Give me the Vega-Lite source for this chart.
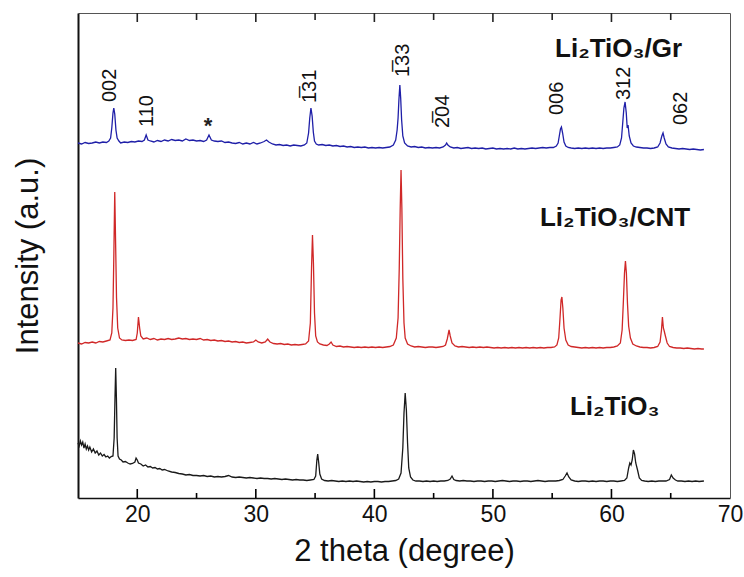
{
"$schema": "https://vega.github.io/schema/vega-lite/v6.json",
"autosize": "none",
"width": 652,
"height": 485,
"padding": {"left": 78, "top": 13, "right": 14, "bottom": 79},
"background": "white",
"view": {"stroke": null},
"config": {"font": "Liberation Sans"},
"datasets": {
"maj": [{"x":20},{"x":30},{"x":40},{"x":50},{"x":60}],
"min": [{"x":25},{"x":35},{"x":45},{"x":55},{"x":65}],
"tr": [
{"s":"Gr","x":15.0,"v":355},{"s":"Gr","x":15.3,"v":354},{"s":"Gr","x":15.6,"v":355.5},{"s":"Gr","x":15.9,"v":354.5},{"s":"Gr","x":16.2,"v":355},{"s":"Gr","x":16.5,"v":356},{"s":"Gr","x":16.8,"v":355},{"s":"Gr","x":17.1,"v":356},{"s":"Gr","x":17.4,"v":355.5},{"s":"Gr","x":17.6,"v":357},{"s":"Gr","x":17.75,"v":360},{"s":"Gr","x":17.85,"v":370},{"s":"Gr","x":17.95,"v":385},{"s":"Gr","x":18.02,"v":390},{"s":"Gr","x":18.1,"v":384},{"s":"Gr","x":18.2,"v":368},{"s":"Gr","x":18.3,"v":360},{"s":"Gr","x":18.45,"v":357},{"s":"Gr","x":18.6,"v":355},{"s":"Gr","x":18.9,"v":356},{"s":"Gr","x":19.2,"v":355.5},{"s":"Gr","x":19.5,"v":356.5},{"s":"Gr","x":19.8,"v":356},{"s":"Gr","x":20.1,"v":357},{"s":"Gr","x":20.4,"v":356.5},{"s":"Gr","x":20.6,"v":358},{"s":"Gr","x":20.75,"v":363},{"s":"Gr","x":20.9,"v":358},{"s":"Gr","x":21.1,"v":357},{"s":"Gr","x":21.4,"v":356},{"s":"Gr","x":21.7,"v":357.5},{"s":"Gr","x":22.0,"v":356.5},{"s":"Gr","x":22.3,"v":358},{"s":"Gr","x":22.6,"v":357},{"s":"Gr","x":22.9,"v":358.5},{"s":"Gr","x":23.2,"v":357.5},{"s":"Gr","x":23.5,"v":358},{"s":"Gr","x":23.8,"v":357},{"s":"Gr","x":24.1,"v":359},{"s":"Gr","x":24.4,"v":357.5},{"s":"Gr","x":24.7,"v":358},{"s":"Gr","x":25.0,"v":357},{"s":"Gr","x":25.3,"v":357.5},{"s":"Gr","x":25.6,"v":356.5},{"s":"Gr","x":25.85,"v":358},{"s":"Gr","x":26.05,"v":363},{"s":"Gr","x":26.25,"v":358},{"s":"Gr","x":26.5,"v":357},{"s":"Gr","x":26.8,"v":356.5},{"s":"Gr","x":27.1,"v":357},{"s":"Gr","x":27.4,"v":355.5},{"s":"Gr","x":27.7,"v":356},{"s":"Gr","x":28.0,"v":355},{"s":"Gr","x":28.3,"v":354.5},{"s":"Gr","x":28.6,"v":355.5},{"s":"Gr","x":28.9,"v":354},{"s":"Gr","x":29.2,"v":355},{"s":"Gr","x":29.5,"v":354},{"s":"Gr","x":29.8,"v":355.5},{"s":"Gr","x":30.1,"v":354},{"s":"Gr","x":30.4,"v":355},{"s":"Gr","x":30.7,"v":356.5},{"s":"Gr","x":30.9,"v":358},{"s":"Gr","x":31.1,"v":356},{"s":"Gr","x":31.4,"v":354},{"s":"Gr","x":31.7,"v":353},{"s":"Gr","x":32.0,"v":353.5},{"s":"Gr","x":32.3,"v":352.5},{"s":"Gr","x":32.6,"v":353},{"s":"Gr","x":32.9,"v":352},{"s":"Gr","x":33.2,"v":353},{"s":"Gr","x":33.5,"v":352.5},{"s":"Gr","x":33.8,"v":352},{"s":"Gr","x":34.1,"v":353},{"s":"Gr","x":34.3,"v":355},{"s":"Gr","x":34.45,"v":365},{"s":"Gr","x":34.55,"v":380},{"s":"Gr","x":34.65,"v":390},{"s":"Gr","x":34.75,"v":382},{"s":"Gr","x":34.85,"v":366},{"s":"Gr","x":34.95,"v":357},{"s":"Gr","x":35.1,"v":354},{"s":"Gr","x":35.3,"v":353},{"s":"Gr","x":35.6,"v":353.5},{"s":"Gr","x":35.9,"v":352.5},{"s":"Gr","x":36.2,"v":353},{"s":"Gr","x":36.5,"v":352},{"s":"Gr","x":36.8,"v":352.5},{"s":"Gr","x":37.1,"v":351.5},{"s":"Gr","x":37.4,"v":352},{"s":"Gr","x":37.7,"v":351},{"s":"Gr","x":38.0,"v":351.5},{"s":"Gr","x":38.3,"v":350.5},{"s":"Gr","x":38.6,"v":351},{"s":"Gr","x":38.9,"v":350.5},{"s":"Gr","x":39.2,"v":351},{"s":"Gr","x":39.5,"v":350},{"s":"Gr","x":39.8,"v":350.5},{"s":"Gr","x":40.1,"v":350},{"s":"Gr","x":40.4,"v":350.5},{"s":"Gr","x":40.7,"v":350},{"s":"Gr","x":41.0,"v":350.5},{"s":"Gr","x":41.3,"v":351},{"s":"Gr","x":41.6,"v":353},{"s":"Gr","x":41.8,"v":358},{"s":"Gr","x":41.92,"v":368},{"s":"Gr","x":42.0,"v":380},{"s":"Gr","x":42.07,"v":398},{"s":"Gr","x":42.15,"v":413},{"s":"Gr","x":42.22,"v":400},{"s":"Gr","x":42.3,"v":378},{"s":"Gr","x":42.4,"v":362},{"s":"Gr","x":42.55,"v":355},{"s":"Gr","x":42.8,"v":352},{"s":"Gr","x":43.1,"v":351},{"s":"Gr","x":43.4,"v":351.5},{"s":"Gr","x":43.7,"v":350.5},{"s":"Gr","x":44.0,"v":351},{"s":"Gr","x":44.3,"v":350},{"s":"Gr","x":44.6,"v":350.5},{"s":"Gr","x":44.9,"v":350},{"s":"Gr","x":45.2,"v":350.5},{"s":"Gr","x":45.5,"v":350},{"s":"Gr","x":45.8,"v":351},{"s":"Gr","x":46.0,"v":353},{"s":"Gr","x":46.1,"v":355},{"s":"Gr","x":46.2,"v":353},{"s":"Gr","x":46.4,"v":351},{"s":"Gr","x":46.7,"v":350},{"s":"Gr","x":47.0,"v":350.5},{"s":"Gr","x":47.3,"v":349.5},{"s":"Gr","x":47.6,"v":350},{"s":"Gr","x":47.9,"v":350.5},{"s":"Gr","x":48.2,"v":349.5},{"s":"Gr","x":48.5,"v":350},{"s":"Gr","x":48.8,"v":349.5},{"s":"Gr","x":49.1,"v":350},{"s":"Gr","x":49.4,"v":349},{"s":"Gr","x":49.7,"v":349.5},{"s":"Gr","x":50.0,"v":350},{"s":"Gr","x":50.3,"v":349},{"s":"Gr","x":50.6,"v":349.5},{"s":"Gr","x":50.9,"v":349},{"s":"Gr","x":51.2,"v":349.5},{"s":"Gr","x":51.5,"v":349},{"s":"Gr","x":51.8,"v":350},{"s":"Gr","x":52.1,"v":349},{"s":"Gr","x":52.4,"v":349.5},{"s":"Gr","x":52.7,"v":349},{"s":"Gr","x":53.0,"v":349.5},{"s":"Gr","x":53.3,"v":350},{"s":"Gr","x":53.6,"v":349.5},{"s":"Gr","x":53.9,"v":350},{"s":"Gr","x":54.2,"v":350.5},{"s":"Gr","x":54.5,"v":350},{"s":"Gr","x":54.8,"v":350.5},{"s":"Gr","x":55.1,"v":350.5},{"s":"Gr","x":55.35,"v":352},{"s":"Gr","x":55.5,"v":355},{"s":"Gr","x":55.6,"v":362},{"s":"Gr","x":55.7,"v":369},{"s":"Gr","x":55.78,"v":371},{"s":"Gr","x":55.88,"v":365},{"s":"Gr","x":56.0,"v":356},{"s":"Gr","x":56.15,"v":352},{"s":"Gr","x":56.35,"v":350.5},{"s":"Gr","x":56.6,"v":350},{"s":"Gr","x":56.9,"v":349.5},{"s":"Gr","x":57.2,"v":350},{"s":"Gr","x":57.5,"v":349.5},{"s":"Gr","x":57.8,"v":350},{"s":"Gr","x":58.1,"v":349.5},{"s":"Gr","x":58.4,"v":350},{"s":"Gr","x":58.7,"v":349.5},{"s":"Gr","x":59.0,"v":350},{"s":"Gr","x":59.3,"v":349.5},{"s":"Gr","x":59.6,"v":350},{"s":"Gr","x":59.9,"v":350},{"s":"Gr","x":60.2,"v":350.5},{"s":"Gr","x":60.5,"v":351},{"s":"Gr","x":60.7,"v":353},{"s":"Gr","x":60.85,"v":360},{"s":"Gr","x":60.95,"v":375},{"s":"Gr","x":61.05,"v":390},{"s":"Gr","x":61.15,"v":396},{"s":"Gr","x":61.25,"v":385},{"s":"Gr","x":61.33,"v":370},{"s":"Gr","x":61.4,"v":373},{"s":"Gr","x":61.5,"v":362},{"s":"Gr","x":61.65,"v":355},{"s":"Gr","x":61.85,"v":352},{"s":"Gr","x":62.1,"v":351},{"s":"Gr","x":62.4,"v":350.5},{"s":"Gr","x":62.7,"v":350},{"s":"Gr","x":63.0,"v":350},{"s":"Gr","x":63.3,"v":349.5},{"s":"Gr","x":63.6,"v":350},{"s":"Gr","x":63.9,"v":351},{"s":"Gr","x":64.1,"v":355},{"s":"Gr","x":64.25,"v":362},{"s":"Gr","x":64.35,"v":365},{"s":"Gr","x":64.45,"v":360},{"s":"Gr","x":64.6,"v":354},{"s":"Gr","x":64.8,"v":351},{"s":"Gr","x":65.1,"v":350},{"s":"Gr","x":65.4,"v":349.5},{"s":"Gr","x":65.7,"v":349},{"s":"Gr","x":66.0,"v":349.5},{"s":"Gr","x":66.3,"v":349},{"s":"Gr","x":66.6,"v":348.5},{"s":"Gr","x":66.9,"v":349},{"s":"Gr","x":67.2,"v":348.5},{"s":"Gr","x":67.5,"v":348},{"s":"Gr","x":67.8,"v":348.5},
{"s":"CNT","x":15.0,"v":155},{"s":"CNT","x":15.3,"v":154},{"s":"CNT","x":15.6,"v":155.5},{"s":"CNT","x":15.9,"v":155},{"s":"CNT","x":16.2,"v":156},{"s":"CNT","x":16.5,"v":155},{"s":"CNT","x":16.8,"v":156.5},{"s":"CNT","x":17.1,"v":156},{"s":"CNT","x":17.4,"v":157},{"s":"CNT","x":17.7,"v":158},{"s":"CNT","x":17.85,"v":165},{"s":"CNT","x":17.95,"v":190},{"s":"CNT","x":18.02,"v":240},{"s":"CNT","x":18.1,"v":306},{"s":"CNT","x":18.18,"v":250},{"s":"CNT","x":18.25,"v":200},{"s":"CNT","x":18.35,"v":170},{"s":"CNT","x":18.5,"v":160},{"s":"CNT","x":18.7,"v":158},{"s":"CNT","x":19.0,"v":157.5},{"s":"CNT","x":19.3,"v":158},{"s":"CNT","x":19.6,"v":157.5},{"s":"CNT","x":19.9,"v":158.5},{"s":"CNT","x":20.0,"v":165},{"s":"CNT","x":20.1,"v":181},{"s":"CNT","x":20.2,"v":170},{"s":"CNT","x":20.3,"v":162},{"s":"CNT","x":20.5,"v":159},{"s":"CNT","x":20.8,"v":160},{"s":"CNT","x":21.1,"v":158.5},{"s":"CNT","x":21.4,"v":159.5},{"s":"CNT","x":21.7,"v":158},{"s":"CNT","x":22.0,"v":159},{"s":"CNT","x":22.3,"v":158.5},{"s":"CNT","x":22.6,"v":159.5},{"s":"CNT","x":22.9,"v":158.5},{"s":"CNT","x":23.2,"v":159},{"s":"CNT","x":23.5,"v":160},{"s":"CNT","x":23.8,"v":159},{"s":"CNT","x":24.1,"v":159.5},{"s":"CNT","x":24.4,"v":158.5},{"s":"CNT","x":24.7,"v":159},{"s":"CNT","x":25.0,"v":158.5},{"s":"CNT","x":25.3,"v":159.5},{"s":"CNT","x":25.6,"v":158},{"s":"CNT","x":25.9,"v":158.5},{"s":"CNT","x":26.2,"v":157.5},{"s":"CNT","x":26.5,"v":158},{"s":"CNT","x":26.8,"v":157},{"s":"CNT","x":27.1,"v":157.5},{"s":"CNT","x":27.4,"v":156.5},{"s":"CNT","x":27.7,"v":157},{"s":"CNT","x":28.0,"v":156},{"s":"CNT","x":28.3,"v":156.5},{"s":"CNT","x":28.6,"v":155.5},{"s":"CNT","x":28.9,"v":156},{"s":"CNT","x":29.2,"v":155},{"s":"CNT","x":29.5,"v":155.5},{"s":"CNT","x":29.8,"v":156},{"s":"CNT","x":30.0,"v":158},{"s":"CNT","x":30.2,"v":156},{"s":"CNT","x":30.5,"v":155},{"s":"CNT","x":30.8,"v":156},{"s":"CNT","x":31.0,"v":159},{"s":"CNT","x":31.2,"v":156},{"s":"CNT","x":31.5,"v":154.5},{"s":"CNT","x":31.8,"v":154},{"s":"CNT","x":32.1,"v":154.5},{"s":"CNT","x":32.4,"v":153.5},{"s":"CNT","x":32.7,"v":154},{"s":"CNT","x":33.0,"v":153},{"s":"CNT","x":33.3,"v":153.5},{"s":"CNT","x":33.6,"v":153},{"s":"CNT","x":33.9,"v":153.5},{"s":"CNT","x":34.2,"v":154},{"s":"CNT","x":34.45,"v":157},{"s":"CNT","x":34.6,"v":175},{"s":"CNT","x":34.7,"v":230},{"s":"CNT","x":34.78,"v":263},{"s":"CNT","x":34.86,"v":235},{"s":"CNT","x":34.95,"v":185},{"s":"CNT","x":35.05,"v":162},{"s":"CNT","x":35.2,"v":156},{"s":"CNT","x":35.4,"v":154},{"s":"CNT","x":35.7,"v":153},{"s":"CNT","x":36.0,"v":152.5},{"s":"CNT","x":36.2,"v":154},{"s":"CNT","x":36.35,"v":156},{"s":"CNT","x":36.5,"v":153},{"s":"CNT","x":36.8,"v":151.5},{"s":"CNT","x":37.1,"v":152},{"s":"CNT","x":37.4,"v":151},{"s":"CNT","x":37.7,"v":151.5},{"s":"CNT","x":38.0,"v":151},{"s":"CNT","x":38.3,"v":150.5},{"s":"CNT","x":38.6,"v":151},{"s":"CNT","x":38.9,"v":150.5},{"s":"CNT","x":39.2,"v":151},{"s":"CNT","x":39.5,"v":150.5},{"s":"CNT","x":39.8,"v":151},{"s":"CNT","x":40.1,"v":150.5},{"s":"CNT","x":40.4,"v":151},{"s":"CNT","x":40.7,"v":150.5},{"s":"CNT","x":41.0,"v":151},{"s":"CNT","x":41.3,"v":151.5},{"s":"CNT","x":41.6,"v":153},{"s":"CNT","x":41.85,"v":160},{"s":"CNT","x":42.0,"v":180},{"s":"CNT","x":42.1,"v":230},{"s":"CNT","x":42.18,"v":290},{"s":"CNT","x":42.25,"v":328},{"s":"CNT","x":42.32,"v":290},{"s":"CNT","x":42.4,"v":220},{"s":"CNT","x":42.5,"v":175},{"s":"CNT","x":42.6,"v":160},{"s":"CNT","x":42.8,"v":154},{"s":"CNT","x":43.1,"v":152},{"s":"CNT","x":43.4,"v":151},{"s":"CNT","x":43.7,"v":151.5},{"s":"CNT","x":44.0,"v":151},{"s":"CNT","x":44.3,"v":150.5},{"s":"CNT","x":44.6,"v":151},{"s":"CNT","x":44.9,"v":151},{"s":"CNT","x":45.2,"v":150.5},{"s":"CNT","x":45.5,"v":151},{"s":"CNT","x":45.8,"v":151.5},{"s":"CNT","x":46.0,"v":153},{"s":"CNT","x":46.15,"v":159},{"s":"CNT","x":46.3,"v":168},{"s":"CNT","x":46.4,"v":162},{"s":"CNT","x":46.55,"v":155},{"s":"CNT","x":46.8,"v":152},{"s":"CNT","x":47.1,"v":151},{"s":"CNT","x":47.4,"v":151.5},{"s":"CNT","x":47.7,"v":151},{"s":"CNT","x":48.0,"v":150.5},{"s":"CNT","x":48.3,"v":151},{"s":"CNT","x":48.6,"v":150.5},{"s":"CNT","x":48.9,"v":151},{"s":"CNT","x":49.2,"v":150.5},{"s":"CNT","x":49.5,"v":151},{"s":"CNT","x":49.8,"v":150.5},{"s":"CNT","x":50.1,"v":150},{"s":"CNT","x":50.4,"v":150.5},{"s":"CNT","x":50.7,"v":150},{"s":"CNT","x":51.0,"v":150.5},{"s":"CNT","x":51.3,"v":150},{"s":"CNT","x":51.6,"v":150.5},{"s":"CNT","x":51.9,"v":150},{"s":"CNT","x":52.2,"v":150.5},{"s":"CNT","x":52.5,"v":150},{"s":"CNT","x":52.8,"v":150.5},{"s":"CNT","x":53.1,"v":150},{"s":"CNT","x":53.4,"v":150.5},{"s":"CNT","x":53.7,"v":150},{"s":"CNT","x":54.0,"v":150.5},{"s":"CNT","x":54.3,"v":150},{"s":"CNT","x":54.6,"v":150.5},{"s":"CNT","x":54.9,"v":150.5},{"s":"CNT","x":55.2,"v":151},{"s":"CNT","x":55.4,"v":153},{"s":"CNT","x":55.55,"v":160},{"s":"CNT","x":55.65,"v":178},{"s":"CNT","x":55.75,"v":198},{"s":"CNT","x":55.82,"v":201},{"s":"CNT","x":55.9,"v":190},{"s":"CNT","x":56.0,"v":170},{"s":"CNT","x":56.15,"v":158},{"s":"CNT","x":56.35,"v":153},{"s":"CNT","x":56.6,"v":151.5},{"s":"CNT","x":56.9,"v":151},{"s":"CNT","x":57.2,"v":150.5},{"s":"CNT","x":57.5,"v":150},{"s":"CNT","x":57.8,"v":150.5},{"s":"CNT","x":58.1,"v":150},{"s":"CNT","x":58.4,"v":150.5},{"s":"CNT","x":58.7,"v":150},{"s":"CNT","x":59.0,"v":150.5},{"s":"CNT","x":59.3,"v":150},{"s":"CNT","x":59.6,"v":150.5},{"s":"CNT","x":59.9,"v":150.5},{"s":"CNT","x":60.2,"v":151},{"s":"CNT","x":60.5,"v":152},{"s":"CNT","x":60.75,"v":155},{"s":"CNT","x":60.9,"v":168},{"s":"CNT","x":61.0,"v":195},{"s":"CNT","x":61.1,"v":225},{"s":"CNT","x":61.18,"v":237},{"s":"CNT","x":61.26,"v":225},{"s":"CNT","x":61.35,"v":195},{"s":"CNT","x":61.45,"v":172},{"s":"CNT","x":61.6,"v":160},{"s":"CNT","x":61.8,"v":154},{"s":"CNT","x":62.1,"v":152},{"s":"CNT","x":62.4,"v":151},{"s":"CNT","x":62.7,"v":150.5},{"s":"CNT","x":63.0,"v":150.5},{"s":"CNT","x":63.3,"v":150},{"s":"CNT","x":63.6,"v":150.5},{"s":"CNT","x":63.9,"v":151.5},{"s":"CNT","x":64.1,"v":156},{"s":"CNT","x":64.22,"v":168},{"s":"CNT","x":64.3,"v":181},{"s":"CNT","x":64.38,"v":170},{"s":"CNT","x":64.45,"v":167},{"s":"CNT","x":64.55,"v":162},{"s":"CNT","x":64.7,"v":155},{"s":"CNT","x":64.9,"v":151.5},{"s":"CNT","x":65.2,"v":150.5},{"s":"CNT","x":65.5,"v":150},{"s":"CNT","x":65.8,"v":150},{"s":"CNT","x":66.1,"v":149.5},{"s":"CNT","x":66.4,"v":150},{"s":"CNT","x":66.7,"v":149.5},{"s":"CNT","x":67.0,"v":149},{"s":"CNT","x":67.3,"v":149.5},{"s":"CNT","x":67.6,"v":149},{"s":"CNT","x":67.8,"v":149},
{"s":"LTO","x":15.0,"v":55},{"s":"LTO","x":15.1,"v":52},{"s":"LTO","x":15.2,"v":57},{"s":"LTO","x":15.3,"v":53},{"s":"LTO","x":15.4,"v":56},{"s":"LTO","x":15.5,"v":50},{"s":"LTO","x":15.6,"v":54},{"s":"LTO","x":15.7,"v":49},{"s":"LTO","x":15.8,"v":52},{"s":"LTO","x":15.9,"v":48},{"s":"LTO","x":16.0,"v":51},{"s":"LTO","x":16.15,"v":46},{"s":"LTO","x":16.3,"v":49},{"s":"LTO","x":16.45,"v":45},{"s":"LTO","x":16.6,"v":47},{"s":"LTO","x":16.75,"v":43},{"s":"LTO","x":16.9,"v":45},{"s":"LTO","x":17.05,"v":42},{"s":"LTO","x":17.2,"v":43.5},{"s":"LTO","x":17.35,"v":41},{"s":"LTO","x":17.5,"v":42},{"s":"LTO","x":17.65,"v":40},{"s":"LTO","x":17.8,"v":41.5},{"s":"LTO","x":17.95,"v":42},{"s":"LTO","x":18.05,"v":60},{"s":"LTO","x":18.12,"v":100},{"s":"LTO","x":18.18,"v":130},{"s":"LTO","x":18.24,"v":100},{"s":"LTO","x":18.3,"v":60},{"s":"LTO","x":18.38,"v":42},{"s":"LTO","x":18.5,"v":39},{"s":"LTO","x":18.65,"v":38},{"s":"LTO","x":18.8,"v":36},{"s":"LTO","x":19.0,"v":36.5},{"s":"LTO","x":19.2,"v":35},{"s":"LTO","x":19.4,"v":34},{"s":"LTO","x":19.6,"v":34.5},{"s":"LTO","x":19.8,"v":36},{"s":"LTO","x":19.9,"v":40},{"s":"LTO","x":20.0,"v":38},{"s":"LTO","x":20.1,"v":35},{"s":"LTO","x":20.3,"v":34},{"s":"LTO","x":20.5,"v":32},{"s":"LTO","x":20.7,"v":33},{"s":"LTO","x":20.9,"v":31},{"s":"LTO","x":21.1,"v":31.5},{"s":"LTO","x":21.3,"v":30},{"s":"LTO","x":21.5,"v":30.5},{"s":"LTO","x":21.7,"v":29},{"s":"LTO","x":21.9,"v":29.5},{"s":"LTO","x":22.1,"v":28},{"s":"LTO","x":22.3,"v":28.5},{"s":"LTO","x":22.6,"v":27},{"s":"LTO","x":22.9,"v":26},{"s":"LTO","x":23.2,"v":25.5},{"s":"LTO","x":23.5,"v":24.5},{"s":"LTO","x":23.8,"v":24},{"s":"LTO","x":24.1,"v":23},{"s":"LTO","x":24.4,"v":23.5},{"s":"LTO","x":24.7,"v":22.5},{"s":"LTO","x":25.0,"v":22.5},{"s":"LTO","x":25.3,"v":22},{"s":"LTO","x":25.6,"v":22.5},{"s":"LTO","x":25.9,"v":21.5},{"s":"LTO","x":26.2,"v":22},{"s":"LTO","x":26.5,"v":21},{"s":"LTO","x":26.8,"v":21.5},{"s":"LTO","x":27.1,"v":21},{"s":"LTO","x":27.4,"v":21.5},{"s":"LTO","x":27.7,"v":22.5},{"s":"LTO","x":28.0,"v":21},{"s":"LTO","x":28.3,"v":20.5},{"s":"LTO","x":28.6,"v":21},{"s":"LTO","x":28.9,"v":20.5},{"s":"LTO","x":29.2,"v":20},{"s":"LTO","x":29.5,"v":20.5},{"s":"LTO","x":29.8,"v":20},{"s":"LTO","x":30.1,"v":19.5},{"s":"LTO","x":30.4,"v":20},{"s":"LTO","x":30.7,"v":19.5},{"s":"LTO","x":31.0,"v":19.5},{"s":"LTO","x":31.3,"v":19},{"s":"LTO","x":31.6,"v":19.5},{"s":"LTO","x":31.9,"v":19},{"s":"LTO","x":32.2,"v":18.5},{"s":"LTO","x":32.5,"v":19},{"s":"LTO","x":32.8,"v":18.5},{"s":"LTO","x":33.1,"v":18},{"s":"LTO","x":33.4,"v":18.5},{"s":"LTO","x":33.7,"v":18},{"s":"LTO","x":34.0,"v":18},{"s":"LTO","x":34.3,"v":17.5},{"s":"LTO","x":34.6,"v":18},{"s":"LTO","x":34.9,"v":18.5},{"s":"LTO","x":35.05,"v":22},{"s":"LTO","x":35.15,"v":38},{"s":"LTO","x":35.22,"v":44},{"s":"LTO","x":35.3,"v":36},{"s":"LTO","x":35.4,"v":24},{"s":"LTO","x":35.55,"v":19},{"s":"LTO","x":35.8,"v":17.5},{"s":"LTO","x":36.1,"v":17},{"s":"LTO","x":36.4,"v":17.5},{"s":"LTO","x":36.7,"v":17},{"s":"LTO","x":37.0,"v":16.5},{"s":"LTO","x":37.3,"v":17},{"s":"LTO","x":37.6,"v":16.5},{"s":"LTO","x":37.9,"v":17},{"s":"LTO","x":38.2,"v":16.5},{"s":"LTO","x":38.5,"v":17},{"s":"LTO","x":38.8,"v":16.5},{"s":"LTO","x":39.1,"v":16},{"s":"LTO","x":39.4,"v":16.5},{"s":"LTO","x":39.7,"v":16},{"s":"LTO","x":40.0,"v":16.5},{"s":"LTO","x":40.3,"v":16.5},{"s":"LTO","x":40.6,"v":16},{"s":"LTO","x":40.9,"v":16.5},{"s":"LTO","x":41.2,"v":16.5},{"s":"LTO","x":41.5,"v":17},{"s":"LTO","x":41.8,"v":17.5},{"s":"LTO","x":42.05,"v":19},{"s":"LTO","x":42.25,"v":25},{"s":"LTO","x":42.4,"v":50},{"s":"LTO","x":42.5,"v":85},{"s":"LTO","x":42.6,"v":105},{"s":"LTO","x":42.7,"v":88},{"s":"LTO","x":42.8,"v":55},{"s":"LTO","x":42.9,"v":30},{"s":"LTO","x":43.05,"v":21},{"s":"LTO","x":43.25,"v":18},{"s":"LTO","x":43.5,"v":17},{"s":"LTO","x":43.8,"v":17},{"s":"LTO","x":44.1,"v":16.5},{"s":"LTO","x":44.4,"v":17},{"s":"LTO","x":44.7,"v":16.5},{"s":"LTO","x":45.0,"v":17},{"s":"LTO","x":45.3,"v":16.5},{"s":"LTO","x":45.6,"v":17},{"s":"LTO","x":45.9,"v":17},{"s":"LTO","x":46.2,"v":17.5},{"s":"LTO","x":46.4,"v":19},{"s":"LTO","x":46.55,"v":22},{"s":"LTO","x":46.7,"v":18.5},{"s":"LTO","x":46.9,"v":17.5},{"s":"LTO","x":47.2,"v":17},{"s":"LTO","x":47.5,"v":17.5},{"s":"LTO","x":47.8,"v":17},{"s":"LTO","x":48.1,"v":17},{"s":"LTO","x":48.4,"v":16.5},{"s":"LTO","x":48.7,"v":17},{"s":"LTO","x":49.0,"v":17},{"s":"LTO","x":49.3,"v":16.5},{"s":"LTO","x":49.6,"v":17},{"s":"LTO","x":49.9,"v":17},{"s":"LTO","x":50.2,"v":16.5},{"s":"LTO","x":50.5,"v":17},{"s":"LTO","x":50.8,"v":17.5},{"s":"LTO","x":51.1,"v":17},{"s":"LTO","x":51.4,"v":16.5},{"s":"LTO","x":51.7,"v":17},{"s":"LTO","x":52.0,"v":17},{"s":"LTO","x":52.3,"v":16.5},{"s":"LTO","x":52.6,"v":17},{"s":"LTO","x":52.9,"v":17},{"s":"LTO","x":53.2,"v":16.5},{"s":"LTO","x":53.5,"v":17},{"s":"LTO","x":53.8,"v":17.5},{"s":"LTO","x":54.1,"v":17},{"s":"LTO","x":54.4,"v":16.5},{"s":"LTO","x":54.7,"v":17},{"s":"LTO","x":55.0,"v":17},{"s":"LTO","x":55.3,"v":17},{"s":"LTO","x":55.6,"v":17.5},{"s":"LTO","x":55.9,"v":18.5},{"s":"LTO","x":56.1,"v":22},{"s":"LTO","x":56.25,"v":25},{"s":"LTO","x":56.4,"v":21},{"s":"LTO","x":56.6,"v":18},{"s":"LTO","x":56.9,"v":17},{"s":"LTO","x":57.2,"v":16.5},{"s":"LTO","x":57.5,"v":17},{"s":"LTO","x":57.8,"v":17},{"s":"LTO","x":58.1,"v":16.5},{"s":"LTO","x":58.4,"v":17},{"s":"LTO","x":58.7,"v":16.5},{"s":"LTO","x":59.0,"v":17},{"s":"LTO","x":59.3,"v":17},{"s":"LTO","x":59.6,"v":16.5},{"s":"LTO","x":59.9,"v":17},{"s":"LTO","x":60.2,"v":17},{"s":"LTO","x":60.5,"v":16.5},{"s":"LTO","x":60.8,"v":17},{"s":"LTO","x":61.1,"v":17.5},{"s":"LTO","x":61.3,"v":20},{"s":"LTO","x":61.45,"v":30},{"s":"LTO","x":61.55,"v":35},{"s":"LTO","x":61.65,"v":33},{"s":"LTO","x":61.75,"v":38},{"s":"LTO","x":61.85,"v":48},{"s":"LTO","x":61.95,"v":44},{"s":"LTO","x":62.05,"v":35},{"s":"LTO","x":62.2,"v":28},{"s":"LTO","x":62.35,"v":20},{"s":"LTO","x":62.55,"v":17.5},{"s":"LTO","x":62.8,"v":17},{"s":"LTO","x":63.1,"v":16.5},{"s":"LTO","x":63.4,"v":17},{"s":"LTO","x":63.7,"v":16.5},{"s":"LTO","x":64.0,"v":17},{"s":"LTO","x":64.3,"v":17},{"s":"LTO","x":64.6,"v":17},{"s":"LTO","x":64.9,"v":18.5},{"s":"LTO","x":65.05,"v":23},{"s":"LTO","x":65.2,"v":20},{"s":"LTO","x":65.4,"v":18},{"s":"LTO","x":65.6,"v":17},{"s":"LTO","x":65.9,"v":17},{"s":"LTO","x":66.2,"v":16.5},{"s":"LTO","x":66.5,"v":17},{"s":"LTO","x":66.8,"v":16.5},{"s":"LTO","x":67.1,"v":17},{"s":"LTO","x":67.4,"v":16.5},{"s":"LTO","x":67.8,"v":17}
],
"peaks": [
{"x":17.70,"v":396,"t":"002"},
{"x":20.82,"v":371,"t":"110"},
{"x":34.57,"v":395,"t":"1\u030531"},
{"x":42.41,"v":421,"t":"1\u030533"},
{"x":45.79,"v":370,"t":"2\u030504"},
{"x":55.41,"v":383,"t":"006"},
{"x":61.06,"v":398,"t":"312"},
{"x":65.86,"v":373,"t":"062"}
],
"names": [
{"x":55.24,"v":441,"t":"Li₂TiO₃/Gr"},
{"x":53.97,"v":272,"t":"Li₂TiO₃/CNT"},
{"x":56.5,"v":83,"t":"Li₂TiO₃"}
],
"star": [
{"x":25.97,"v":365,"t":"*"}
]
},
"layer": [
{
"data": {"name": "tr"},
"mark": {"type": "line", "strokeWidth": 1.3, "interpolate": "linear"},
"encoding": {
"x": {"field": "x", "type": "quantitative", "scale": {"domain": [15, 70], "nice": false, "zero": false},
"axis": {"orient": "bottom", "title": "2 theta (degree)", "values": [20,30,40,50,60,70],
"labelFlush": false, "labelFontSize": 23, "labelColor": "#111", "labelFont": "Liberation Sans",
"ticks": false, "domain": true, "domainColor": "#111", "domainWidth": 1.5, "grid": false, "labelPadding": 5,
"titleFontSize": 31, "titleFontWeight": "normal", "titleFont": "Liberation Sans", "titleColor": "#111", "titlePadding": 10}},
"y": {"field": "v", "type": "quantitative", "scale": {"domain": [0, 485], "nice": false, "zero": false},
"axis": {"orient": "left", "title": "Intensity (a.u.)", "labels": false, "ticks": false, "grid": false, "domainColor": "#111", "domainWidth": 2,
"titleFontSize": 31, "titleFontWeight": "normal", "titleFont": "Liberation Sans", "titleColor": "#111", "titlePadding": 34}},
"color": {"field": "s", "type": "nominal", "scale": {"domain": ["Gr", "CNT", "LTO"], "range": ["#1f1fa8", "#d02828", "#1a1a1a"]}, "legend": null}
}
},
{
"data": {"name": "peaks"},
"mark": {"type": "text", "angle": 270, "align": "left", "baseline": "middle", "fontSize": 20, "font": "Liberation Sans", "color": "#111"},
"encoding": {
"x": {"field": "x", "type": "quantitative", "scale": {"domain": [15, 70], "nice": false, "zero": false},
"axis": {"orient": "top", "title": null, "labels": false, "ticks": false, "domain": true, "domainColor": "#555", "domainWidth": 1, "grid": false}},
"y": {"field": "v", "type": "quantitative", "scale": {"domain": [0, 485], "nice": false, "zero": false},
"axis": {"orient": "right", "title": null, "labels": false, "ticks": false, "grid": false, "domain": true, "domainColor": "#555", "domainWidth": 1}},
"text": {"field": "t"}
}
},
{
"data": {"name": "names"},
"mark": {"type": "text", "align": "left", "baseline": "alphabetic", "fontSize": 26, "fontWeight": "bold", "font": "Liberation Sans", "color": "#111"},
"encoding": {
"x": {"field": "x", "type": "quantitative", "scale": {"domain": [15, 70], "nice": false, "zero": false}, "axis": null},
"y": {"field": "v", "type": "quantitative", "scale": {"domain": [0, 485], "nice": false, "zero": false}, "axis": null},
"text": {"field": "t"}
}
},
{
"data": {"name": "star"},
"mark": {"type": "text", "align": "center", "baseline": "alphabetic", "fontSize": 22, "fontWeight": "bold", "font": "Liberation Sans", "color": "#222"},
"encoding": {
"x": {"field": "x", "type": "quantitative", "scale": {"domain": [15, 70], "nice": false, "zero": false}, "axis": null},
"y": {"field": "v", "type": "quantitative", "scale": {"domain": [0, 485], "nice": false, "zero": false}, "axis": null},
"text": {"field": "t"}
}
},
{
"data": {"name": "maj"},
"mark": {"type": "rule", "color": "#000", "strokeWidth": 1.6},
"encoding": {
"x": {"field": "x", "type": "quantitative", "scale": {"domain": [15, 70], "nice": false, "zero": false}, "axis": null},
"y": {"datum": 0, "type": "quantitative", "scale": {"domain": [0, 485], "nice": false, "zero": false}, "axis": null},
"y2": {"datum": 9}
}
},
{
"data": {"name": "min"},
"mark": {"type": "rule", "color": "#000", "strokeWidth": 1.6},
"encoding": {
"x": {"field": "x", "type": "quantitative", "scale": {"domain": [15, 70], "nice": false, "zero": false}, "axis": null},
"y": {"datum": 0, "type": "quantitative", "scale": {"domain": [0, 485], "nice": false, "zero": false}, "axis": null},
"y2": {"datum": 5}
}
},
{
"data": {"name": "maj"},
"mark": {"type": "rule", "color": "#222", "strokeWidth": 1.6},
"encoding": {
"x": {"field": "x", "type": "quantitative", "scale": {"domain": [15, 70], "nice": false, "zero": false}, "axis": null},
"y": {"datum": 485, "type": "quantitative", "scale": {"domain": [0, 485], "nice": false, "zero": false}, "axis": null},
"y2": {"datum": 476}
}
},
{
"data": {"name": "min"},
"mark": {"type": "rule", "color": "#222", "strokeWidth": 1.6},
"encoding": {
"x": {"field": "x", "type": "quantitative", "scale": {"domain": [15, 70], "nice": false, "zero": false}, "axis": null},
"y": {"datum": 485, "type": "quantitative", "scale": {"domain": [0, 485], "nice": false, "zero": false}, "axis": null},
"y2": {"datum": 478}
}
}
],
"resolve": {"axis": {"x": "independent", "y": "independent"}}
}
